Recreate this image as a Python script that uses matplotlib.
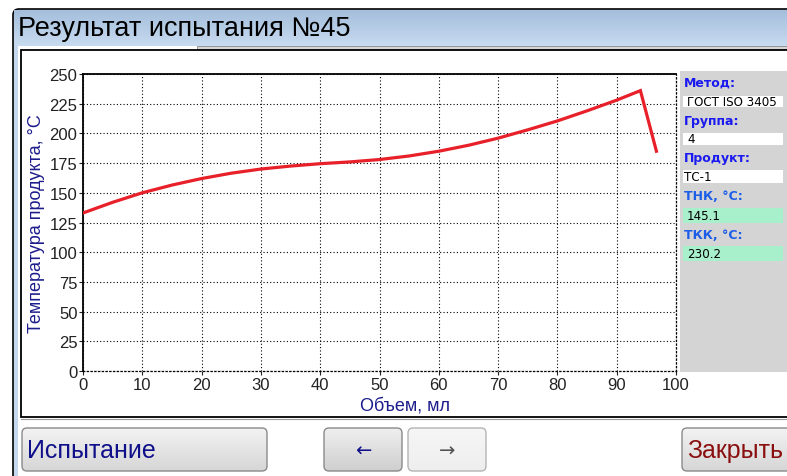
import numpy as np
import matplotlib
matplotlib.use("Agg")
import matplotlib.pyplot as plt
from matplotlib.patches import Rectangle, FancyBboxPatch
from matplotlib.colors import LinearSegmentedColormap

plt.rcParams['font.family'] = ['Liberation Sans', 'DejaVu Sans']

# curve
volume = [0, 5, 10, 15, 20, 25, 30, 35, 40, 45, 50, 55, 60, 65, 70, 75, 80, 85, 90, 94, 96.7]
temp = [133, 142, 150, 156.5, 162, 166.5, 170, 172.5, 174.5, 176, 178, 181, 185, 190,
        196, 203, 210.5, 219, 228, 236, 185]

x_ticks = list(range(0, 101, 10))
y_ticks = list(range(0, 251, 25))

info_labels = ["Метод:", "Группа:", "Продукт:", "ТНК, °С:", "ТКК, °С:"]
info_values = ["ГОСТ ISO 3405", "4", "ТС-1", "145.1", "230.2"]

W, H = 787, 477
fig = plt.figure(figsize=(W / 100, H / 100), dpi=100)
fig.patch.set_facecolor('white')

# background "window" drawn in pixel coordinates
bg = fig.add_axes([0, 0, 1, 1])
bg.set_xlim(0, W)
bg.set_ylim(H, 0)
bg.axis('off')


def gradient(ax, x0, x1, y0, y1, c_top, c_bot, clip=None, z=1):
    cmap = LinearSegmentedColormap.from_list('g', [c_top, c_bot])
    g = np.linspace(0, 1, 64).reshape(-1, 1)
    im = ax.imshow(g, extent=[x0, x1, y1, y0], aspect='auto', cmap=cmap,
                   origin='upper', zorder=z, interpolation='bilinear')
    if clip is not None:
        im.set_clip_path(clip)
    return im


# window frame + title bar
frame = FancyBboxPatch((13, 10), 800, 480, boxstyle="round,pad=0,rounding_size=6",
                       fc='#c4d7ec', ec='black', lw=1.2, zorder=0)
bg.add_patch(frame)
gradient(bg, 14, W, 11, 47, '#a4bedb', '#c8dbf0', z=1)
bg.text(18, 29, "Результат испытания №45", fontsize=19.5, color='black',
        va='center', ha='left', zorder=3)
bg.add_patch(Rectangle((18, 47), 180, 3, fc='white', ec='none', zorder=2))
bg.add_patch(Rectangle((197, 47), 600, 3, fc='#d6d6d6', ec='#8a8a8a', lw=0.6, zorder=2))

# white lower area + chart panel
bg.add_patch(Rectangle((18, 50), 800, 430, fc='white', ec='none', zorder=1))
bg.add_patch(Rectangle((21, 51), 800, 367, fc='white', ec='black', lw=1.3, zorder=2))
bg.plot([21, W], [419.5, 419.5], color='#9a9a9a', lw=0.8, zorder=2)

# right info panel
bg.add_patch(Rectangle((680, 72), 110, 301, fc='#d4d4d4', ec='none', zorder=2))
lab_y = [83, 121, 159, 197, 236]
box_y = [(97, 108), (134, 146), (171, 184), (209, 224), (247, 262)]
lab_col = ['#1a1af0', '#1a1af0', '#1a1af0', '#1c5ee8', '#1c5ee8']
for i in range(len(info_labels)):
    bg.text(684, lab_y[i], info_labels[i], fontsize=9, fontweight='bold',
            color=lab_col[i], family='DejaVu Sans', va='center', ha='left', zorder=4)
    y0, y1 = box_y[i]
    fc = '#a8f0cc' if i >= 3 else 'white'
    bg.add_patch(Rectangle((683, y0), 100, y1 - y0, fc=fc, ec='none', zorder=3))
    tx = 684 if i == 2 else 687
    bg.text(tx, (y0 + y1) / 2, info_values[i], fontsize=8.6, color='black',
            family='DejaVu Sans', va='center', ha='left', zorder=4)

# buttons
buttons = [
    (22, 267, "Испытание", '#10108a', 18, 'left', '#f3f3f3', '#d6d6d6', '#8a8a8a'),
    (324, 402, "←", '#10108a', 14, 'center', '#efefef', '#cfcfcf', '#8a8a8a'),
    (408, 486, "→", '#505050', 14, 'center', '#f6f6f6', '#eeeeee', '#b4b4b4'),
    (682, 800, "Закрыть", '#8a1010', 18, 'left', '#f3f3f3', '#d6d6d6', '#8a8a8a'),
]
for x0, x1, txt, col, fs, ha, ct, cb, ec in buttons:
    p = FancyBboxPatch((x0, 429), x1 - x0, 43, boxstyle="round,pad=0,rounding_size=5",
                       fc='none', ec=ec, lw=1.0, zorder=4)
    bg.add_patch(p)
    gradient(bg, x0, x1, 429, 472, ct, cb, clip=p, z=3)
    fam = 'DejaVu Sans' if len(txt) == 1 else 'Liberation Sans'
    tx = x0 + 5 if ha == 'left' else (x0 + x1) / 2
    bg.text(tx, 451, txt, fontsize=fs, color=col, ha=ha, va='center',
            family=fam, zorder=5)

# the chart itself
ax = fig.add_axes([83 / W, (H - 372) / H, 593 / W, 297 / H])
ax.plot(volume, temp, color='#e8202a', lw=2.3, solid_joinstyle='miter', zorder=3)
ax.set_xlim(0, 100)
ax.set_ylim(0, 250)
ax.set_xticks(x_ticks)
ax.set_yticks(y_ticks)
ax.tick_params(labelsize=12, colors='#222222', length=3, pad=1)
ax.grid(True, color='black', ls=(0, (1, 2)), lw=0.8)
for s in ['right', 'bottom']:
    ax.spines[s].set_linestyle((0, (1, 2)))
    ax.spines[s].set_linewidth(0.9)
for s in ['left', 'top']:
    ax.spines[s].set_linewidth(1.3)
ax.set_xlabel("Объем, мл", fontsize=13, color='#1c1c8c', labelpad=1)
ax.xaxis.set_label_coords(0.543, -0.085)
ax.set_ylabel("Температура продукта, °С", fontsize=13, color='#1c1c8c', labelpad=3)

fig.savefig("out.png", dpi=100)
